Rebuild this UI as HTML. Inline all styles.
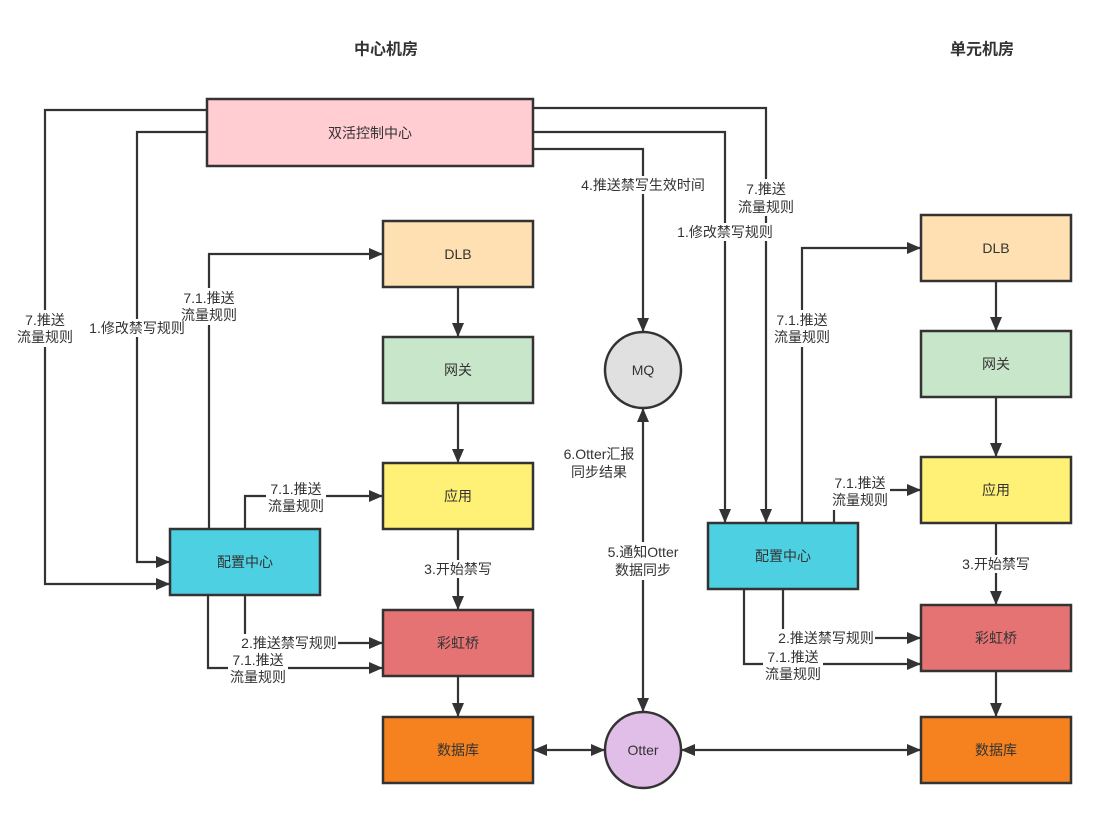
<!DOCTYPE html>
<html>
<head>
<meta charset="utf-8">
<style>
  html,body{margin:0;padding:0;background:#fff;}
  svg{display:block;}
  text{font-family:"Liberation Sans","Noto Sans CJK SC","WenQuanYi Zen Hei",sans-serif;fill:#333;}
</style>
</head>
<body>
<svg width="1098" height="816" viewBox="0 0 1098 816" xmlns="http://www.w3.org/2000/svg">
  <defs>
    <marker id="a" markerWidth="15" markerHeight="13" refX="14" refY="6.5" orient="auto-start-reverse" markerUnits="userSpaceOnUse">
      <path d="M0,0.5 L14,6.5 L0,12.5 Z" fill="#333"/>
    </marker>
  </defs>
  <rect width="1098" height="816" fill="#fff"/>

  <!-- titles -->
  <text x="386" y="50" font-size="16" font-weight="bold" text-anchor="middle" dominant-baseline="central">中心机房</text>
  <text x="982" y="50" font-size="16" font-weight="bold" text-anchor="middle" dominant-baseline="central">单元机房</text>

  <!-- connectors -->
  <g fill="none" stroke="#333" stroke-width="2.2">
    <path d="M207,110 H45 V584 H170" marker-end="url(#a)"/>
    <path d="M207,132 H137 V562 H170" marker-end="url(#a)"/>
    <path d="M209,529 V254 H383" marker-end="url(#a)"/>
    <path d="M245,529 V496 H383" marker-end="url(#a)"/>
    <path d="M245,595 V643 H383" marker-end="url(#a)"/>
    <path d="M208,595 V668 H383" marker-end="url(#a)"/>
    <path d="M458,287 V337" marker-end="url(#a)"/>
    <path d="M458,403 V463" marker-end="url(#a)"/>
    <path d="M458,529 V610" marker-end="url(#a)"/>
    <path d="M458,676 V717" marker-end="url(#a)"/>
    <path d="M533,750 H605" marker-start="url(#a)" marker-end="url(#a)"/>
    <path d="M681,750 H921" marker-start="url(#a)" marker-end="url(#a)"/>
    <path d="M643,408 V712" marker-start="url(#a)" marker-end="url(#a)"/>
    <path d="M533,108 H766 V523" marker-end="url(#a)"/>
    <path d="M533,132 H725 V523" marker-end="url(#a)"/>
    <path d="M533,149 H643 V332" marker-end="url(#a)"/>
    <path d="M802,523 V248 H921" marker-end="url(#a)"/>
    <path d="M834,523 V490 H921" marker-end="url(#a)"/>
    <path d="M783,589 V638 H921" marker-end="url(#a)"/>
    <path d="M744,589 V664 H921" marker-end="url(#a)"/>
    <path d="M996,281 V331" marker-end="url(#a)"/>
    <path d="M996,397 V457" marker-end="url(#a)"/>
    <path d="M996,523 V605" marker-end="url(#a)"/>
    <path d="M996,671 V717" marker-end="url(#a)"/>
  </g>

  <!-- label backgrounds -->
  <g fill="#fff">
    <rect x="17" y="310" width="56" height="37"/>
    <rect x="88" y="319" width="99" height="18"/>
    <rect x="179" y="288" width="60" height="37"/>
    <rect x="266" y="479" width="60" height="37"/>
    <rect x="423" y="560" width="70" height="18"/>
    <rect x="240" y="634" width="98" height="18"/>
    <rect x="228" y="651" width="60" height="35"/>
    <rect x="580" y="176" width="126" height="18"/>
    <rect x="738" y="179" width="56" height="37"/>
    <rect x="676" y="223" width="98" height="18"/>
    <rect x="772" y="310" width="60" height="37"/>
    <rect x="563" y="444" width="74" height="37"/>
    <rect x="607" y="542" width="74" height="38"/>
    <rect x="830" y="473" width="60" height="37"/>
    <rect x="777" y="629" width="98" height="18"/>
    <rect x="763" y="647" width="60" height="37"/>
    <rect x="961" y="555" width="70" height="18"/>
  </g>

  <!-- labels -->
  <g font-size="14" text-anchor="middle" dominant-baseline="central">
    <text x="45" y="320">7.推送</text><text x="45" y="337">流量规则</text>
    <text x="137" y="328">1.修改禁写规则</text>
    <text x="209" y="298">7.1.推送</text><text x="209" y="315">流量规则</text>
    <text x="296" y="489">7.1.推送</text><text x="296" y="506">流量规则</text>
    <text x="458" y="569">3.开始禁写</text>
    <text x="289" y="643">2.推送禁写规则</text>
    <text x="258" y="660">7.1.推送</text><text x="258" y="677">流量规则</text>
    <text x="643" y="185">4.推送禁写生效时间</text>
    <text x="766" y="189">7.推送</text><text x="766" y="207">流量规则</text>
    <text x="725" y="232">1.修改禁写规则</text>
    <text x="802" y="320">7.1.推送</text><text x="802" y="337">流量规则</text>
    <text x="599" y="454">6.Otter汇报</text><text x="599" y="472">同步结果</text>
    <text x="643" y="552">5.通知Otter</text><text x="643" y="570">数据同步</text>
    <text x="860" y="483">7.1.推送</text><text x="860" y="500">流量规则</text>
    <text x="826" y="638">2.推送禁写规则</text>
    <text x="793" y="657">7.1.推送</text><text x="793" y="674">流量规则</text>
    <text x="996" y="564">3.开始禁写</text>
  </g>

  <!-- boxes -->
  <g stroke="#333" stroke-width="2.5">
    <rect x="207" y="99" width="326" height="67" fill="#ffcdd2"/>
    <rect x="383" y="221" width="150" height="66" fill="#ffe0b2"/>
    <rect x="383" y="337" width="150" height="66" fill="#c8e6c9"/>
    <rect x="383" y="463" width="150" height="66" fill="#fff176"/>
    <rect x="383" y="610" width="150" height="66" fill="#e57373"/>
    <rect x="383" y="717" width="150" height="66" fill="#f5821f"/>
    <rect x="170" y="529" width="150" height="66" fill="#4dd0e1"/>
    <rect x="921" y="215" width="150" height="66" fill="#ffe0b2"/>
    <rect x="921" y="331" width="150" height="66" fill="#c8e6c9"/>
    <rect x="921" y="457" width="150" height="66" fill="#fff176"/>
    <rect x="921" y="605" width="150" height="66" fill="#e57373"/>
    <rect x="921" y="717" width="150" height="66" fill="#f5821f"/>
    <rect x="708" y="523" width="150" height="66" fill="#4dd0e1"/>
    <circle cx="643" cy="370" r="38" fill="#e0e0e0"/>
    <circle cx="643" cy="750" r="38" fill="#e1bee7"/>
  </g>

  <!-- box text -->
  <g font-size="14" text-anchor="middle" dominant-baseline="central">
    <text x="370" y="133">双活控制中心</text>
    <text x="458" y="254">DLB</text>
    <text x="458" y="370">网关</text>
    <text x="458" y="496">应用</text>
    <text x="458" y="643">彩虹桥</text>
    <text x="458" y="750">数据库</text>
    <text x="245" y="562">配置中心</text>
    <text x="996" y="248">DLB</text>
    <text x="996" y="364">网关</text>
    <text x="996" y="490">应用</text>
    <text x="996" y="638">彩虹桥</text>
    <text x="996" y="750">数据库</text>
    <text x="783" y="556">配置中心</text>
    <text x="643" y="370">MQ</text>
    <text x="643" y="750">Otter</text>
  </g>
</svg>
</body>
</html>
